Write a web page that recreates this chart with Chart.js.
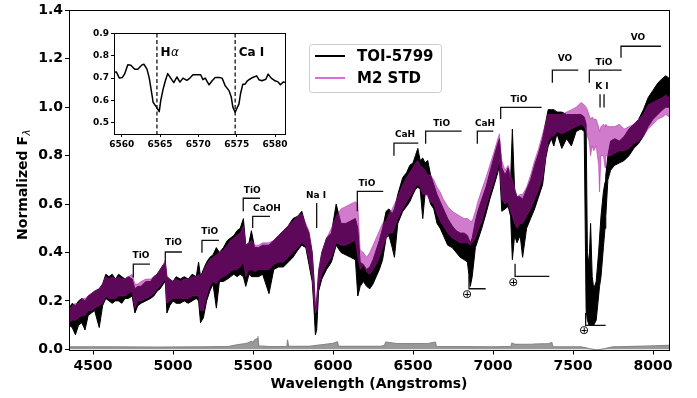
<!DOCTYPE html>
<html>
<head>
<meta charset="utf-8">
<script src="https://cdn.jsdelivr.net/npm/chart.js@4.4.0/dist/chart.umd.min.js"></script>
<style>
    body { margin: 0; background: #fff; }
    #wrap { position: relative; width: 697px; height: 398px; }
    #mainChart { position: absolute; left: 0; top: 0; }
    #insetChart { position: absolute; left: 84px; top: 26px; }
</style>
</head>
<body>
<div id="wrap">
    <canvas id="mainChart" width="697" height="398"></canvas>
    <canvas id="insetChart" width="206" height="130"></canvas>
</div>
<script>
// Wavelength grid (Angstroms) shared by both spectra
const wave = [
    4350, 4370, 4390, 4410, 4430, 4450, 4470, 4490, 4510, 4539,
    4560, 4580, 4600, 4620, 4640, 4660, 4680, 4700, 4720, 4745,
    4762, 4780, 4800, 4830, 4860, 4880, 4900, 4920, 4940, 4952,
    4962, 4980, 5000, 5020, 5045, 5070, 5095, 5120, 5145, 5160,
    5172, 5190, 5210, 5230, 5250, 5271, 5290, 5315, 5340, 5360,
    5380, 5400, 5420, 5440, 5455, 5475, 5490, 5510, 5535, 5560,
    5600, 5630, 5660, 5690, 5720, 5750, 5780, 5805, 5830, 5850,
    5870, 5880, 5890, 5898, 5910, 5930, 5960, 5990, 6020, 6050,
    6080, 6110, 6140, 6155, 6170, 6190, 6210, 6230, 6250, 6270,
    6290, 6310, 6332, 6350, 6370, 6384, 6405, 6436, 6460, 6480,
    6500, 6515, 6530, 6545, 6561, 6575, 6592, 6610, 6630, 6650,
    6670, 6690, 6717, 6745, 6770, 6795, 6820, 6840, 6858, 6870,
    6890, 6905, 6930, 6956, 6980, 7008, 7030, 7040, 7055, 7075,
    7095, 7110, 7121, 7135, 7150, 7170, 7185, 7210, 7235, 7260,
    7285, 7310, 7330, 7345, 7365, 7380, 7400, 7430, 7460, 7490,
    7520, 7550, 7570, 7582, 7590, 7600, 7610, 7620, 7630, 7645,
    7660, 7666, 7675, 7690, 7700, 7705, 7718, 7735, 7760, 7790,
    7820, 7850, 7880, 7910, 7940, 7970, 8000, 8030, 8060, 8080,
    8100
];

// TOI-5799: upper and lower edge of the noisy trace
const toiHigh = [
    .17, .19, .18, .20, .21, .20, .22, .23, .24, .25,
    .27, .31, .30, .31, .29, .31, .30, .29, .30, .29,
    .25, .26, .26, .28, .28, .30, .31, .33, .35, .36,
    .30, .29, .28, .30, .29, .30, .29, .31, .30, .36,
    .30, .33, .36, .38, .39, .42, .40, .42, .45, .46,
    .47, .49, .50, .54, .43, .44, .49, .42, .42, .43,
    .43, .45, .47, .49, .51, .54, .55, .57, .51, .48,
    .40, .30, .17, .20, .32, .40, .46, .48, .60, .52,
    .52, .53, .54, .50, .36, .35, .33, .34, .37, .41,
    .45, .50, .57, .58, .56, .58, .64, .71, .73, .76,
    .77, .80, .83, .78, .79, .77, .78, .72, .68, .64,
    .61, .58, .54, .51, .49, .48, .48, .47, .44, .46,
    .53, .57, .62, .67, .73, .80, .85, .87, .75, .72,
    .75, .70, .91, .66, .63, .63, .62, .66, .70, .76,
    .81, .87, .94, .99, .99, .99, .98, .98, .97, .97,
    .97, .97, .96, .93, .40, .35, .52, .30, .25, .28,
    .40, .46, .55, .65, .69, .72, .80, .86, .87, .86,
    .88, .91, .93, .95, .99, 1.04, 1.07, 1.10, 1.12, 1.13,
    1.12
];
const toiLow = [
    .10, .09, .06, .10, .11, .08, .14, .15, .16, .09,
    .18, .21, .20, .19, .20, .20, .19, .21, .21, .22,
    .15, .18, .19, .20, .21, .22, .24, .25, .27, .28,
    .15, .18, .20, .19, .19, .20, .19, .20, .21, .20,
    .11, .13, .20, .24, .27, .17, .28, .28, .29, .30,
    .31, .30, .31, .30, .26, .31, .30, .30, .30, .31,
    .23, .33, .34, .34, .36, .38, .41, .43, .42, .35,
    .28, .18, .06, .08, .24, .29, .33, .36, .43, .40,
    .39, .38, .37, .22, .26, .28, .26, .25, .27, .30,
    .33, .37, .46, .47, .42, .38, .52, .57, .59, .61,
    .64, .66, .67, .66, .54, .64, .64, .60, .58, .52,
    .50, .47, .43, .42, .40, .38, .37, .36, .26, .30,
    .42, .45, .50, .56, .62, .68, .73, .76, .57, .58,
    .59, .55, .37, .47, .44, .47, .38, .50, .54, .58,
    .63, .68, .79, .84, .87, .84, .89, .83, .87, .84,
    .90, .91, .90, .16, .12, .10, .10, .10, .10, .12,
    .22, .26, .30, .42, .50, .55, .70, .74, .76, .77,
    .78, .80, .83, .85, .88, .92, .95, .97, .99, 1.00,
    1.00
];

// M2 standard: upper and lower edge
const stdHigh = [
    .16, .18, .19, .19, .21, .21, .22, .23, .24, .25,
    .27, .30, .29, .30, .29, .30, .29, .29, .30, .31,
    .27, .27, .28, .29, .29, .30, .31, .33, .35, .37,
    .30, .29, .28, .29, .28, .29, .29, .30, .30, .31,
    .30, .32, .35, .37, .38, .39, .40, .41, .43, .45,
    .46, .47, .48, .51, .43, .44, .45, .43, .43, .44,
    .44, .45, .47, .49, .51, .53, .55, .56, .52, .49,
    .40, .30, .18, .20, .33, .40, .46, .50, .55, .58,
    .59, .60, .61, .60, .41, .40, .38, .40, .43, .46,
    .49, .52, .53, .56, .58, .60, .63, .68, .71, .73,
    .75, .77, .78, .76, .75, .74, .72, .72, .70, .67,
    .65, .62, .59, .57, .56, .55, .54, .54, .53, .53,
    .57, .61, .66, .71, .76, .82, .87, .89, .78, .74,
    .76, .72, .70, .67, .63, .64, .64, .67, .72, .78,
    .83, .89, .94, .97, .97, .97, .97, .97, .98, .99,
    1.00, 1.02, 1.01, 1.00, .99, .97, .95, .96, .95, .95,
    .92, .90, .92, .93, .92, .93, .92, .92, .92, .93,
    .91, .92, .93, .95, .97, 1.01, 1.02, 1.03, 1.04, 1.05,
    1.04
];
const stdLow = [
    .11, .12, .12, .13, .14, .14, .16, .16, .17, .18,
    .19, .22, .21, .21, .21, .22, .22, .22, .23, .24,
    .17, .20, .20, .21, .22, .23, .25, .26, .28, .29,
    .19, .20, .21, .21, .21, .21, .21, .22, .22, .22,
    .16, .16, .22, .26, .28, .27, .29, .30, .31, .32,
    .33, .33, .34, .36, .30, .33, .33, .32, .33, .33,
    .33, .35, .36, .36, .38, .40, .42, .44, .43, .37,
    .30, .20, .15, .16, .26, .31, .35, .38, .44, .43,
    .43, .44, .45, .38, .33, .35, .32, .31, .33, .35,
    .38, .42, .46, .48, .48, .50, .54, .58, .61, .63,
    .65, .67, .68, .67, .64, .64, .63, .61, .60, .56,
    .53, .51, .48, .46, .45, .44, .44, .44, .43, .44,
    .46, .49, .53, .59, .64, .70, .75, .78, .62, .60,
    .61, .57, .55, .52, .50, .52, .52, .55, .58, .62,
    .66, .71, .80, .86, .88, .88, .90, .89, .90, .91,
    .92, .93, .92, .90, .88, .86, .80, .84, .82, .84,
    .76, .65, .80, .80, .75, .80, .80, .80, .81, .82,
    .82, .83, .85, .86, .88, .91, .93, .95, .96, .97,
    .96
];

// error spectrum (gray, near zero)
const errWave = [4350, 4600, 4900, 5200, 5350, 5400, 5440, 5470, 5490, 5500, 5510, 5525, 5531, 5536, 5600,
    5712, 5716, 5722, 5850, 5900, 5950, 6000, 6028, 6034, 6300, 6322, 6330, 6400, 6500, 6600, 6640, 6646,
    7000, 7112, 7118, 7140, 7250, 7350, 7368, 7374, 7550, 7600, 7650, 7700, 7750, 7900, 8000, 8100];
const errFlux = [.010, .010, .009, .010, .012, .018, .022, .027, .033, .028, .038, .044, .052, .014, .011,
    .012, .038, .012, .012, .016, .020, .025, .031, .012, .012, .016, .030, .024, .023, .025, .030, .012,
    .010, .012, .026, .020, .021, .024, .028, .011, .010, .003, -.003, .003, .010, .012, .014, .016];

// inset: zoom on H-alpha / Ca I
const insetWave = [6559.0, 6559.3, 6559.7, 6560.1, 6560.4, 6560.8, 6561.2, 6561.7, 6562.1, 6562.6,
    6562.9, 6563.3, 6563.6, 6563.9, 6564.1, 6564.4, 6564.6, 6564.9, 6565.1, 6565.4,
    6565.7, 6566.0, 6566.4, 6566.8, 6567.2, 6567.6, 6568.0, 6568.5, 6568.9, 6569.3,
    6569.9, 6570.3, 6570.6, 6570.9, 6571.1, 6571.4, 6571.8, 6572.2, 6572.7, 6573.1,
    6573.5, 6574.0, 6574.3, 6574.5, 6574.8, 6575.3, 6575.5, 6575.8, 6576.1, 6576.4,
    6576.7, 6577.1, 6577.6, 6577.9, 6578.3, 6578.8, 6579.1, 6579.5, 6580.0, 6580.4,
    6580.7, 6581.1, 6581.3];
const insetFlux = [.725, .728, .700, .703, .720, .760, .758, .740, .740, .758,
    .762, .740, .700, .636, .592, .577, .567, .550, .600, .650,
    .688, .720, .700, .680, .705, .682, .700, .690, .700, .715,
    .715, .715, .693, .700, .688, .670, .688, .703, .703, .700,
    .666, .644, .614, .570, .547, .585, .630, .673, .673, .688,
    .695, .703, .710, .693, .688, .695, .718, .700, .688, .683,
    .670, .683, .680];
const insetLines = [{ wave: 6564.6, label: 'H' }, { wave: 6574.8, label: 'Ca I' }];

const xTicks = [4500, 5000, 5500, 6000, 6500, 7000, 7500, 8000];
const yTicks = [0, 0.2, 0.4, 0.6, 0.8, 1.0, 1.2, 1.4];
const insetXTicks = [6560, 6565, 6570, 6575, 6580];
const insetYTicks = [0.5, 0.6, 0.7, 0.8, 0.9];

const seriesNames = ['TOI-5799', 'M2 STD'];

// feature markers: head wavelength, bracket bottom/top, bracket end, label position
const bands = [
    { label: 'TiO', wave: 4752, low: 0.297, high: 0.352, end: 4856, tx: 4800, ty: 0.386 },
    { label: 'TiO', wave: 4952, low: 0.358, high: 0.402, end: 5056, tx: 5003, ty: 0.439 },
    { label: 'TiO', wave: 5181, low: 0.399, high: 0.450, end: 5287, tx: 5230, ty: 0.488 },
    { label: 'TiO', wave: 5439, low: 0.570, high: 0.624, end: 5544, tx: 5495, ty: 0.656 },
    { label: 'CaOH', wave: 5498, low: 0.501, high: 0.549, end: 5606, tx: 5587, ty: 0.583 },
    { label: 'Na I', wave: 5898, low: 0.501, high: 0.604, end: null, tx: 5894, ty: 0.635 },
    { label: 'TiO', wave: 6152, low: 0.570, high: 0.652, end: 6314, tx: 6212, ty: 0.684 },
    { label: 'CaH', wave: 6381, low: 0.800, high: 0.852, end: 6533, tx: 6450, ty: 0.885 },
    { label: 'TiO', wave: 6579, low: 0.849, high: 0.901, end: 6804, tx: 6679, ty: 0.934 },
    { label: 'CaH', wave: 6902, low: 0.849, high: 0.901, end: 7002, tx: 6950, ty: 0.934 },
    { label: 'TiO', wave: 7048, low: 0.951, high: 0.999, end: 7304, tx: 7162, ty: 1.032 },
    { label: 'VO', wave: 7371, low: 1.101, high: 1.153, end: 7533, tx: 7450, ty: 1.200 },
    { label: 'TiO', wave: 7602, low: 1.101, high: 1.153, end: 7804, tx: 7694, ty: 1.183 },
    { label: 'K I', wave: 7669, low: 0.999, high: 1.054, end: null, tx: 7681, ty: 1.085 },
    { label: '', wave: 7694, low: 0.999, high: 1.054, end: null },
    { label: 'VO', wave: 7800, low: 1.204, high: 1.252, end: 8050, tx: 7906, ty: 1.286 }
];
// telluric markers
const tellurics = [
    { wave: 6850, top: 0.304, bottom: 0.250, end: 6954, mx: 6837, my: 0.226 },
    { wave: 7138, top: 0.353, bottom: 0.301, end: 7352, mx: 7127, my: 0.274 },
    { wave: 7579, top: 0.151, bottom: 0.099, end: 7704, mx: 7569, my: 0.075 }
];

const FONT = '"DejaVu Sans", sans-serif';
const TOI_COLOR = '#000000';
const STD_FILL = 'rgba(170, 15, 160, 0.55)';
const STD_LEGEND = '#da70d6';

const pts = (xs, ys) => xs.map((x, i) => ({ x: x, y: ys[i] }));

const mainOverlay = {
    id: 'mainOverlay',
    afterDraw(chart) {
        const { ctx, chartArea: a, scales: { x, y } } = chart;
        ctx.save();

        // axes box
        ctx.strokeStyle = '#000';
        ctx.lineWidth = 1;
        ctx.strokeRect(Math.round(a.left) + 0.5, Math.round(a.top) + 0.5,
            Math.round(a.right - a.left), Math.round(a.bottom - a.top));

        // band brackets
        ctx.lineWidth = 1.3;
        ctx.strokeStyle = '#111';
        ctx.fillStyle = '#000';
        ctx.font = 'bold 9px ' + FONT;
        ctx.textAlign = 'center';
        ctx.textBaseline = 'middle';
        bands.forEach(b => {
            const x0 = x.getPixelForValue(b.wave);
            ctx.beginPath();
            ctx.moveTo(x0, y.getPixelForValue(b.low));
            ctx.lineTo(x0, y.getPixelForValue(b.high));
            if (b.end) ctx.lineTo(x.getPixelForValue(b.end), y.getPixelForValue(b.high));
            ctx.stroke();
            if (b.label) ctx.fillText(b.label, x.getPixelForValue(b.tx), y.getPixelForValue(b.ty));
        });

        // telluric brackets
        ctx.font = '12px ' + FONT;
        tellurics.forEach(t => {
            const x0 = x.getPixelForValue(t.wave);
            const yb = y.getPixelForValue(t.bottom);
            ctx.beginPath();
            ctx.moveTo(x0, y.getPixelForValue(t.top));
            ctx.lineTo(x0, yb);
            ctx.lineTo(x.getPixelForValue(t.end), yb);
            ctx.stroke();
            ctx.fillText('\u2295', x.getPixelForValue(t.mx), y.getPixelForValue(t.my));
        });

        // legend
        ctx.beginPath();
        if (ctx.roundRect) ctx.roundRect(309.5, 44.5, 132, 48, 3);
        else ctx.rect(309.5, 44.5, 132, 48);
        ctx.fillStyle = 'rgba(255,255,255,0.8)';
        ctx.fill();
        ctx.strokeStyle = '#cccccc';
        ctx.lineWidth = 1;
        ctx.stroke();
        const legendColors = [TOI_COLOR, STD_LEGEND];
        ctx.font = 'bold 15px ' + FONT;
        ctx.textAlign = 'left';
        seriesNames.forEach((name, i) => {
            const ly = 56 + i * 22;
            ctx.strokeStyle = legendColors[i];
            ctx.lineWidth = 2;
            ctx.beginPath();
            ctx.moveTo(315, ly);
            ctx.lineTo(345, ly);
            ctx.stroke();
            ctx.fillStyle = '#000';
            ctx.fillText(name, 357, ly + 1);
        });

        // axis titles
        ctx.font = 'bold 14px ' + FONT;
        ctx.textAlign = 'center';
        ctx.fillText('Wavelength (Angstroms)', (a.left + a.right) / 2, 384);

        ctx.translate(23.5, 185);
        ctx.rotate(-Math.PI / 2);
        const mainTxt = 'Normalized F';
        const wMain = ctx.measureText(mainTxt).width;
        ctx.font = 'italic 10px ' + FONT;
        const wSub = ctx.measureText('\u03bb').width;
        const start = -(wMain + wSub) / 2;
        ctx.textAlign = 'left';
        ctx.font = 'bold 14px ' + FONT;
        ctx.fillText(mainTxt, start, 0);
        ctx.font = 'italic 10px ' + FONT;
        ctx.fillText('\u03bb', start + wMain + 0.5, 4);
        ctx.restore();
    }
};

const tickFont = { family: FONT, size: 14, weight: 'bold' };

new Chart(document.getElementById('mainChart'), {
    type: 'line',
    data: {
        datasets: [
            { data: pts(wave, toiHigh), borderColor: TOI_COLOR, borderWidth: 1, fill: false, order: 3 },
            { data: pts(wave, toiLow), borderColor: TOI_COLOR, borderWidth: 1, fill: '-1', backgroundColor: TOI_COLOR, order: 3 },
            { data: pts(wave, stdHigh), borderColor: STD_FILL, borderWidth: 0.8, fill: false, order: 2 },
            { data: pts(wave, stdLow), borderColor: STD_FILL, borderWidth: 0.8, fill: '-1', backgroundColor: STD_FILL, order: 2 },
            { data: pts(errWave, errFlux), borderColor: '#888888', borderWidth: 1.2, fill: 'origin', backgroundColor: '#999999', order: 1 }
        ]
    },
    options: {
        responsive: false,
        animation: false,
        events: [],
        layout: { padding: { left: 0, right: 28, top: 7, bottom: 0 } },
        elements: { point: { radius: 0 }, line: { tension: 0, borderJoinStyle: 'round' } },
        plugins: { legend: { display: false }, tooltip: { enabled: false } },
        scales: {
            x: {
                type: 'linear', min: 4350, max: 8100,
                afterBuildTicks: s => { s.ticks = xTicks.map(v => ({ value: v })); },
                afterFit: s => { s.height = 47.5; },
                ticks: { font: tickFont, color: '#000', padding: 3, maxRotation: 0, callback: v => String(v) },
                grid: { drawOnChartArea: false, drawTicks: true, tickLength: 4, color: '#000' },
                border: { display: false }
            },
            y: {
                type: 'linear', min: -0.005, max: 1.4,
                afterBuildTicks: s => { s.ticks = yTicks.map(v => ({ value: v })); },
                afterFit: s => { s.width = 69; },
                ticks: { font: tickFont, color: '#000', padding: 2, callback: v => v.toFixed(1) },
                grid: { drawOnChartArea: false, drawTicks: true, tickLength: 4, color: '#000' },
                border: { display: false }
            }
        }
    },
    plugins: [mainOverlay]
});

const insetOverlay = {
    id: 'insetOverlay',
    afterDraw(chart) {
        const { ctx, chartArea: a, scales: { x } } = chart;
        ctx.save();
        ctx.strokeStyle = '#000';
        ctx.lineWidth = 1;
        ctx.strokeRect(Math.round(a.left) + 0.5, Math.round(a.top) + 0.5,
            Math.round(a.right - a.left), Math.round(a.bottom - a.top));
        ctx.setLineDash([4, 2.5]);
        ctx.lineWidth = 1.2;
        ctx.fillStyle = '#000';
        ctx.textBaseline = 'middle';
        ctx.textAlign = 'left';
        insetLines.forEach(l => {
            const px = x.getPixelForValue(l.wave);
            ctx.beginPath();
            ctx.moveTo(px, a.top);
            ctx.lineTo(px, a.bottom);
            ctx.stroke();
            ctx.font = 'bold 12px ' + FONT;
            ctx.fillText(l.label, px + 3.5, a.top + 19.5);
            if (l.label === 'H') {
                const w = ctx.measureText('H').width;
                ctx.font = 'italic 12px ' + FONT;
                ctx.fillText('\u03b1', px + 4 + w, a.top + 19.5);
            }
        });
        ctx.restore();
    }
};

const insetTickFont = { family: FONT, size: 9, weight: 'bold' };

new Chart(document.getElementById('insetChart'), {
    type: 'line',
    data: {
        datasets: [
            { data: pts(insetWave, insetFlux), borderColor: '#000', borderWidth: 1.5, fill: false }
        ]
    },
    options: {
        responsive: false,
        animation: false,
        events: [],
        layout: { padding: { left: 0, right: 5, top: 6, bottom: 0 } },
        elements: { point: { radius: 0 }, line: { tension: 0, borderJoinStyle: 'round' } },
        plugins: { legend: { display: false }, tooltip: { enabled: false } },
        scales: {
            x: {
                type: 'linear', min: 6559, max: 6581.3,
                afterBuildTicks: s => { s.ticks = insetXTicks.map(v => ({ value: v })); },
                afterFit: s => { s.height = 22; },
                ticks: { font: insetTickFont, color: '#000', padding: 2, maxRotation: 0, callback: v => String(v) },
                grid: { drawOnChartArea: false, drawTicks: true, tickLength: 3, color: '#000' },
                border: { display: false }
            },
            y: {
                type: 'linear', min: 0.45, max: 0.9,
                afterBuildTicks: s => { s.ticks = insetYTicks.map(v => ({ value: v })); },
                afterFit: s => { s.width = 30; },
                ticks: { font: insetTickFont, color: '#000', padding: 2, callback: v => v.toFixed(1) },
                grid: { drawOnChartArea: false, drawTicks: true, tickLength: 3, color: '#000' },
                border: { display: false }
            }
        }
    },
    plugins: [insetOverlay]
});
</script>
</body>
</html>
